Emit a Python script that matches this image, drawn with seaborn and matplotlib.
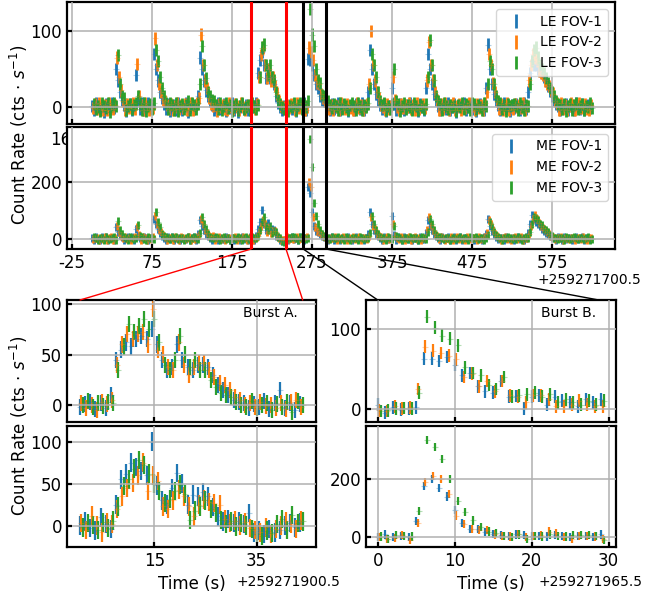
import numpy as np
import matplotlib
matplotlib.use('Agg')
import matplotlib.pyplot as plt
from matplotlib.patches import ConnectionPatch
import seaborn as sns

# ---- overview light curves, 2.5 s bins, t relative to 259271700.5 ----
ov_bin = 2.5
le_fov1 = [2, -3, 5, 1, -4, 3, -6, 4, 0, -2,
           6, -1, 50, 35, 20, 10, 3, -5, 2, 4,
           -3, 1, 42, 10, -2, 5, -4, 2, 6, -1,
           3, 70, 50, 35, 20, 12, 5, -2, 4, -5,
           1, 3, -4, 6, 0, -3, 2, 5, -6, 1,
           4, -2, 3, 15, 65, 50, 35, 22, 15, 8,
           3, -4, 1, 5, -2, 0, 4, -5, 2, -1,
           5, -3, 2, -6, 1, 4, -2, 3, -4, 0,
           0, 2, 5, 45, 62, 72, 55, 38, 50, 38,
           40, 30, 15, 6, 0, -3, 2, -4, 1, 3,
           -2, 4, -5, 1, 3, -1, 5, -3, 63, 62,
           55, 42, 30, 25, 15, 10, 8, 5, 2, -3,
           4, -2, 1, 5, -4, 3, -1, 2, -5, 0,
           3, -3, 4, 1, -2, 5, -4, 2, 20, 75,
           50, 30, 18, 10, 3, -2, 4, -5, 1, 2,
           25, 5, -3, 2, 4, -1, -4, 3, 0, 5,
           -2, 3, 1, -5, 4, 0, -3, 25, 70, 50,
           30, 18, 10, 2, -4, 3, 1, -2, 5, -3,
           0, 4, -6, 2, 3, -1, 5, -3, 1, 4,
           -2, 3, -5, 1, 4, 0, -3, 25, 82, 50,
           30, 18, 10, 3, -4, 1, 5, -2, 2, -5,
           3, -1, 4, 0, -3, 2, 5, -2, 20, 45,
           60, 55, 55, 50, 48, 45, 40, 35, 28, 22,
           15, 10, 5, 2, -4, 3, -1, 4, -3, 2,
           0, -3, 5, 1, -2, 4, -4, 2, 3, -1]
le_fov2 = [-1, 4, -2, 6, 0, -3, 3, -4, 5, 1,
           -2, 3, 65, 40, 22, 8, -3, 4, -1, 2,
           5, -2, 57, 15, 3, -4, 6, 0, -3, 2,
           -1, 90, 55, 30, 20, 10, 8, 3, -2, 4,
           -4, 1, 5, -2, 3, -1, 4, -3, 0, 6,
           -3, 2, 5, 12, 95, 55, 35, 25, 12, 5,
           2, 3, -5, 4, 0, 3, -2, -4, 5, 1,
           -2, 4, 1, -3, 5, 0, -4, 2, 3, -1,
           2, -2, 4, 40, 68, 78, 55, 38, 50, 35,
           40, 28, 18, 8, 2, 0, -2, 3, -1, 4,
           3, -3, 5, -1, 2, 6, -4, 1, 78, 72,
           62, 42, 32, 30, 17, 12, 8, 4, -2, 3,
           -4, 3, 1, -3, 5, 0, -2, 4, 2, -1,
           -3, 2, 5, -1, 3, -4, 1, 4, 30, 100,
           55, 35, 20, 12, 3, 1, -3, 4, -2, 2,
           40, 10, 1, -3, 4, -1, 3, 0, 5, -2,
           3, -4, 5, -2, 2, 4, -1, 35, 85, 55,
           35, 20, 10, -3, 4, -2, 5, 1, -3, 3,
           5, -3, 1, 4, -4, 2, -1, 3, 6, -2,
           2, -4, 4, -1, 3, -3, 5, 20, 70, 55,
           32, 20, 8, -2, 4, -3, 2, 5, -4, 1,
           -2, 4, 0, 3, -1, 5, -3, 2, 35, 55,
           70, 65, 60, 48, 45, 42, 35, 30, 28, 22,
           18, 8, 6, -3, 5, -2, 3, -4, 2, 5,
           3, -4, 2, 5, -1, 0, 4, -2, -3, 3]
le_fov3 = [4, -2, 1, -5, 6, 2, -1, 5, -6, 3,
           5, 2, 68, 30, 15, 12, -4, 2, 4, -2,
           3, 5, 15, 5, -3, 6, -5, 2, 4, -2,
           5, 75, 60, 40, 25, 15, 6, -2, 5, 3,
           -3, 6, -5, 2, 4, -2, 3, 8, -3, 5,
           3, -2, 5, 30, 80, 55, 38, 20, 15, 10,
           8, 3, -2, 5, -4, 2, 6, -1, 3, -5,
           1, 4, -3, 2, 6, -2, 0, 3, -4, 5,
           1, -2, 3, 40, 78, 82, 55, 42, 55, 40,
           35, 20, 10, 4, 0, -2, 3, -5, 2, 0,
           5, -4, 3, 6, -2, 4, 1, 8, 128, 95,
           80, 50, 35, 32, 16, 15, 10, 8, 3, -1,
           4, 2, -3, 5, -2, 4, 1, -4, 3, 6,
           2, -3, 5, 1, -4, 3, 0, 5, 25, 70,
           55, 40, 20, 8, 3, 5, -3, 2, -2, 4,
           50, 8, 4, -5, 2, 6, -2, 3, 1, -3,
           5, 2, -4, 3, 1, -2, 4, 40, 88, 55,
           35, 15, 8, 4, -3, 5, 2, -2, 3, 0,
           2, -5, 3, 0, 6, -2, 4, 1, -3, 5,
           4, -2, 3, 0, -4, 5, 2, 30, 60, 50,
           30, 15, 8, 5, -2, 3, -5, 4, 2, 3,
           4, 2, -3, 5, 1, -4, 3, 2, 30, 60,
           75, 78, 65, 55, 50, 45, 38, 32, 25, 20,
           14, 8, 4, 3, -2, 4, -5, 2, 4, -3,
           3, 5, -2, 1, 4, -3, 2, 0, 5, -1]
me_fov1 = [3, -5, 6, 0, -4, 5, -2, 7, -6, 2,
           4, -3, 40, 25, 12, 5, -4, 3, 6, -1,
           5, -4, 35, 8, 3, -2, 6, 1, -5, 4,
           2, 70, 50, 35, 20, 10, 3, -4, 5, -2,
           6, -3, 1, 4, -5, 3, 0, -2, 7, -4,
           2, 5, -3, 15, 65, 45, 30, 18, 8, 4,
           -3, 6, 2, -5, 4, 0, -2, 5, 3, -4,
           1, -6, 4, 2, -3, 5, -1, 3, -4, 6,
           2, -3, 10, 35, 60, 100, 50, 30, 55, 30,
           35, 30, 10, 5, -6, -8, -5, 2, -3, 4,
           5, -2, 3, -4, 6, 1, -3, 4, 180, 160,
           95, 45, 28, 25, 15, 8, 5, 2, -4, 3,
           6, -3, 2, 4, -5, 1, 3, -2, 5, 0,
           -4, 3, 6, -2, 1, 4, -3, 2, 15, 95,
           50, 30, 15, 8, 3, -4, 5, 0, -2, 4,
           80, 12, -3, 5, 2, -4, 6, 1, -2, 3,
           -5, 4, 2, -3, 5, 0, -2, 20, 65, 45,
           30, 15, 8, 3, -4, 5, -1, 2, 6, -3,
           0, 5, -3, 2, 6, -4, 1, 3, -2, 4,
           2, -5, 4, 0, 3, -3, 5, 15, 70, 45,
           28, 15, 6, -2, 4, 1, -4, 5, 3, -1,
           4, -3, 2, 5, -2, 3, -4, 1, 20, 50,
           85, 70, 60, 50, 45, 35, 28, 20, 15, 10,
           5, 3, -3, 5, 1, -4, 6, -2, 2, 4,
           -4, 3, 6, -2, 2, 5, -3, 1, 4, -1]
me_fov2 = [-2, 4, 1, -5, 3, -1, 5, -3, 2, 6,
           -4, 2, 45, 22, 10, 3, 5, -2, 4, -3,
           2, 6, 40, 12, -4, 5, 1, -3, 3, -1,
           5, 80, 50, 30, 22, 12, 6, -3, 2, 4,
           -3, 5, 2, -4, 6, 1, -2, 3, 5, -5,
           4, -2, 6, 12, 70, 50, 32, 20, 10, 5,
           8, -3, 2, 5, -1, 3, -5, 4, 1, -2,
           3, 5, -4, 1, -2, 6, 2, -3, 4, 0,
           -3, 4, 5, 25, 45, 65, 50, 25, 40, 20,
           28, 26, 8, 4, -5, -6, -3, 5, 0, 2,
           -2, 3, 6, -1, 4, -3, 2, 5, 200, 180,
           75, 40, 28, 25, 15, 10, 5, 3, -2, 4,
           3, 5, -4, 1, -2, 6, 2, -3, 4, -1,
           5, -2, 3, 6, -4, 1, 4, -2, 10, 75,
           45, 35, 18, 10, 5, -3, 2, 6, -1, 3,
           50, 8, 4, -2, 5, 1, -4, 3, 6, -3,
           2, 5, -2, 4, -4, 3, 1, 30, 75, 48,
           32, 18, 8, -2, 5, 2, -3, 4, 0, 6,
           -4, 2, 5, -1, 3, 0, -3, 5, 2, -2,
           4, 3, -3, 6, -1, 2, 5, 20, 65, 50,
           30, 15, 8, 4, -3, 2, 5, -1, 3, -4,
           2, 6, -2, 3, 5, -3, 1, 4, 15, 45,
           70, 85, 70, 55, 45, 38, 30, 22, 15, 10,
           6, -2, 4, 1, 5, -3, 2, 4, -2, 3,
           2, -3, 4, 1, -2, 5, 0, -4, 3, 2]
me_fov3 = [5, 1, -3, 4, 2, -4, 6, 0, -2, 3,
           5, -3, 62, 30, 15, 6, 2, -4, 5, 1,
           -2, 4, 48, 10, 5, 0, -3, 6, 2, 4,
           -2, 95, 60, 40, 18, 8, 5, 3, -2, 6,
           2, 6, -2, 3, 4, -5, 1, 5, -3, 2,
           5, 3, -2, 20, 77, 50, 35, 15, 6, 4,
           3, 5, 1, -4, 3, 6, -2, 4, -3, 1,
           4, -2, 5, 3, -4, 2, 6, -1, 3, 5,
           4, 1, 8, 30, 60, 75, 45, 30, 45, 20,
           28, 22, 5, 3, -8, -10, -2, 3, 1, 6,
           6, 2, -3, 5, 1, 4, -2, 3, 350, 250,
           125, 80, 50, 30, 18, 10, 8, 4, -2, 5,
           1, 3, 5, -2, 4, -3, 5, 2, -4, 3,
           3, 1, -4, 6, 2, -2, 4, 1, 20, 80,
           50, 32, 15, 6, 4, 1, -3, 5, 2, -2,
           45, 10, 5, 1, -3, 4, 2, -2, 6, 3,
           2, 4, -5, 3, 6, 1, -2, 25, 70, 50,
           30, 12, 6, 5, 1, -2, 3, 4, -3, 2,
           3, -1, 4, 6, -2, 3, 2, -3, 5, 1,
           2, 5, -2, 4, 1, -3, 3, 12, 60, 40,
           25, 12, 5, 1, -4, 3, 2, 5, 1, -2,
           3, -2, 5, 4, -3, 2, 6, 1, 25, 50,
           75, 72, 65, 52, 48, 35, 30, 22, 12, 8,
           4, 1, -2, 4, 3, -4, 5, 2, -1, 3,
           5, 1, -2, 4, 3, -1, 2, 5, -3, 0]

# ---- Burst A, 1 s bins, t relative to 259271900.5 ----
leA_fov1 = [-2, 1, 3, -4, 2, -3, 10, 45, 55, 62, 58, 65, 68, 65, 75, 60, 45, 35, 38, 60,
            45, 38, 35, 40, 40, 38, 30, 20, 15, 10, 5, 3, 2, -3, 1, -2, 4, -4, 2, 15,
            -3, 2, -5, 1]
leA_fov2 = [2, -3, 0, -5, 3, 1, 5, 40, 60, 70, 65, 70, 72, 60, 95, 55, 50, 38, 35, 62,
            40, 30, 38, 42, 42, 35, 28, 22, 20, 15, 8, 5, 0, 2, -2, 3, -1, 0, -3, 2,
            -4, 3, 5, -2]
leA_fov3 = [0, 4, -2, 2, -1, 3, 2, 35, 58, 80, 72, 78, 85, 75, 85, 62, 40, 35, 45, 68,
            50, 38, 45, 35, 35, 25, 18, 12, 10, 8, 3, 0, -2, 4, -3, 0, 2, -5, 1, -2,
            3, -7, 4, 0]
meA_fov1 = [0, 5, -3, -6, 10, 2, -4, 25, 55, 62, 75, 70, 65, 60, 100, 48, 30, 25, 45, 63,
            50, 25, 37, 35, 40, 35, 22, 11, 5, 8, 3, 5, 2, 15, -8, -6, -10, -4, -8, -5,
            0, 3, -2, 4]
meA_fov2 = [3, -5, 12, 0, -8, 4, 2, 20, 35, 45, 51, 60, 75, 41, 60, 53, 23, 20, 30, 43,
            35, 23, 11, 25, 31, 28, 27, 25, 8, 3, 6, 0, 4, -3, -5, -8, -2, -10, -4, 0,
            5, 2, -4, 6]
meA_fov3 = [-2, 3, 1, -5, 4, -3, 6, 23, 47, 55, 68, 78, 72, 62, 50, 41, 27, 32, 41, 49,
            38, 7, 18, 23, 30, 20, 15, 7, 2, 5, -1, 3, 0, -4, -10, -12, -6, -9, 2, 8,
            -5, 13, 3, 5]

# ---- Burst B, 1 s bins, t relative to 259271965.5 ----
leB_fov1 = [5, -5, 2, -1, 0, 2, 63, 63, 60, 65, 55, 42, 45, 28, 22, 20, 35, 15, 16, 0,
            15, 17, 5, 15, 10, 8, 3, 12, 8, 12]
leB_fov2 = [-2, -3, 3, 0, 2, 25, 78, 73, 70, 67, 62, 40, 44, 28, 35, 22, 35, 17, 15, 8,
            17, 17, 12, 3, 3, 5, 10, 5, 3, 3]
leB_fov3 = [-3, -2, 0, 1, 0, 20, 116, 102, 92, 88, 80, 52, 45, 42, 30, 25, 40, 15, 17, 18,
            20, 15, 18, 8, 12, 8, 5, 10, 5, 10]
meB_fov1 = [2, 10, 0, 5, 0, 55, 175, 200, 170, 140, 95, 50, 28, 30, 18, 12, 8, 5, 10, 8,
            5, 5, 3, 8, 5, 0, 5, 5, 0, 10]
meB_fov2 = [0, -5, -2, 8, -10, 50, 190, 210, 200, 150, 75, 45, 28, 25, 25, 10, 5, 3, 12, 0,
            5, 8, 20, 15, 0, -5, 5, 5, 3, -5]
meB_fov3 = [3, -5, 8, 5, 3, 90, 335, 310, 268, 200, 125, 88, 58, 35, 20, 15, 5, 0, 10, -5,
            5, 3, 10, 5, 3, 8, 8, 8, 5, -10]

# burst windows marked on the overview
burstA_lines = [199, 242.5]
burstB_lines = [264, 292.5]

colors = sns.color_palette('tab10')[:3]

sns.set_theme(style='white')
plt.rcParams.update({
    'font.family': ['DejaVu Sans'],
    'axes.edgecolor': 'black', 'axes.linewidth': 1.6,
    'xtick.bottom': True, 'ytick.left': True,
    'xtick.direction': 'in', 'ytick.direction': 'in',
    'xtick.major.size': 3.5, 'ytick.major.size': 3.5,
    'xtick.major.width': 1.6, 'ytick.major.width': 1.6,
    'xtick.labelsize': 12, 'ytick.labelsize': 12,
    'xtick.color': 'black', 'ytick.color': 'black',
    'text.color': 'black', 'axes.labelcolor': 'black',
    'grid.color': '#b0b0b0', 'grid.linewidth': 1.1,
})


def draw_lc(ax, t0, step, series, err, shift, lw, labels=None):
    for k, y in enumerate(series):
        tt = t0 + np.arange(len(y)) * step + k * shift
        ax.errorbar(tt, y, yerr=err, fmt='none', ecolor=colors[k], elinewidth=lw,
                    label=labels[k] if labels else None, zorder=2)
        sns.scatterplot(x=tt, y=y, ax=ax, marker='+', color=colors[k], alpha=0.35,
                        s=14, linewidth=0.8, legend=False, zorder=2.1)
    ax.grid(True)
    ax.set_axisbelow(False)


W, H = 646, 596
fig = plt.figure(figsize=(W / 100, H / 100), dpi=100)


def box(l, t, r, b):
    return [l / W, 1 - b / H, (r - l) / W, (b - t) / H]


ax_le = fig.add_axes(box(67, 2, 615, 124))
ax_me = fig.add_axes(box(67, 127, 615, 249))
axA_le = fig.add_axes(box(67, 300, 316, 422))
axA_me = fig.add_axes(box(67, 426, 316, 547))
axB_le = fig.add_axes(box(366, 300, 616, 422))
axB_me = fig.add_axes(box(366, 426, 616, 547))

draw_lc(ax_le, 0.4, ov_bin, [le_fov1, le_fov2, le_fov3], 8, ov_bin / 3, 2.0,
        ['LE FOV-1', 'LE FOV-2', 'LE FOV-3'])
draw_lc(ax_me, 0.4, ov_bin, [me_fov1, me_fov2, me_fov3], 14, ov_bin / 3, 2.0,
        ['ME FOV-1', 'ME FOV-2', 'ME FOV-3'])
draw_lc(axA_le, 0.5, 1, [leA_fov1, leA_fov2, leA_fov3], 8, 0.25, 1.6)
draw_lc(axA_me, 0.5, 1, [meA_fov1, meA_fov2, meA_fov3], 11, 0.25, 1.6)
draw_lc(axB_le, 0.0, 1, [leB_fov1, leB_fov2, leB_fov3], 8, 0.2, 1.6)
draw_lc(axB_me, 0.0, 1, [meB_fov1, meB_fov2, meB_fov3], 14, 0.2, 1.6)

ov_ticks = [-25, 75, 175, 275, 375, 475, 575]
for ax in (ax_le, ax_me):
    ax.set_xlim(-31.25, 653.75)
    ax.set_xticks(ov_ticks)
    for x in burstA_lines:
        ax.axvline(x, color='red', lw=2.2, zorder=4)
    for x in burstB_lines:
        ax.axvline(x, color='black', lw=2.2, zorder=4)
ax_le.set_xticklabels([])
ax_me.set_xticklabels([str(v) for v in ov_ticks])
ax_le.set_ylim(-21.8, 137.5)
ax_le.set_yticks([0, 100])
ax_me.set_ylim(-36, 392)
ax_me.set_yticks([0, 200])

for ax in (axA_le, axA_me):
    ax.set_xlim(-2.05, 46.6)
    ax.set_xticks([15, 35])
axA_le.set_xticklabels([])
axA_le.set_ylim(-17.2, 104.3)
axA_le.set_yticks([0, 50, 100])
axA_me.set_ylim(-25.4, 118.7)
axA_me.set_yticks([0, 50, 100])

for ax in (axB_le, axB_me):
    ax.set_xlim(-1.52, 30.95)
    ax.set_xticks([0, 10, 20, 30])
axB_le.set_xticklabels([])
axB_le.set_ylim(-16.7, 136.9)
axB_le.set_yticks([0, 100])
axB_me.set_ylim(-33, 382)
axB_me.set_yticks([0, 200])

ax_le.legend(loc='upper right', fontsize=10)
ax_me.legend(loc='upper right', fontsize=10)

axA_le.text(0.815, 0.893, 'Burst A.', transform=axA_le.transAxes, ha='center',
            va='center', fontsize=10)
axB_le.text(0.812, 0.893, 'Burst B.', transform=axB_le.transAxes, ha='center',
            va='center', fontsize=10)

# stray tick label partly hidden under the ME panel
ax_le.text(50 / W, 1 - 140 / H, '160', transform=fig.transFigure, fontsize=12,
           ha='left', va='center', clip_on=False)

axA_me.set_xlabel('Time (s)', fontsize=12, labelpad=4)
axB_me.set_xlabel('Time (s)', fontsize=12, labelpad=4)

fig.text(641 / W, 1 - 280 / H, '+259271700.5', ha='right', va='center', fontsize=10)
fig.text(340 / W, 1 - 582 / H, '+259271900.5', ha='right', va='center', fontsize=10)
fig.text(643 / W, 1 - 582 / H, '+259271965.5', ha='right', va='center', fontsize=10)

ylab = 'Count Rate (cts$\\,\\cdot\\,s^{-1}$)'
fig.text(19 / W, 1 - 135 / H, ylab, rotation=90, ha='center', va='center', fontsize=12)
fig.text(19 / W, 1 - 426 / H, ylab, rotation=90, ha='center', va='center', fontsize=12)

# zoom connectors
links = [(burstA_lines[0], 0.5, axA_le, 'red'),
         (burstA_lines[1], len(leA_fov1), axA_le, 'red'),
         (burstB_lines[0], 0.0, axB_le, 'black'),
         (burstB_lines[1], len(leB_fov1) - 1.3, axB_le, 'black')]
for xa, xb, axb, c in links:
    con = ConnectionPatch(xyA=(xa, ax_me.get_ylim()[0]), coordsA=ax_me.transData,
                          xyB=(xb, axb.get_ylim()[1]), coordsB=axb.transData,
                          color=c, lw=1)
    fig.add_artist(con)

fig.savefig('out.png', dpi=100)
